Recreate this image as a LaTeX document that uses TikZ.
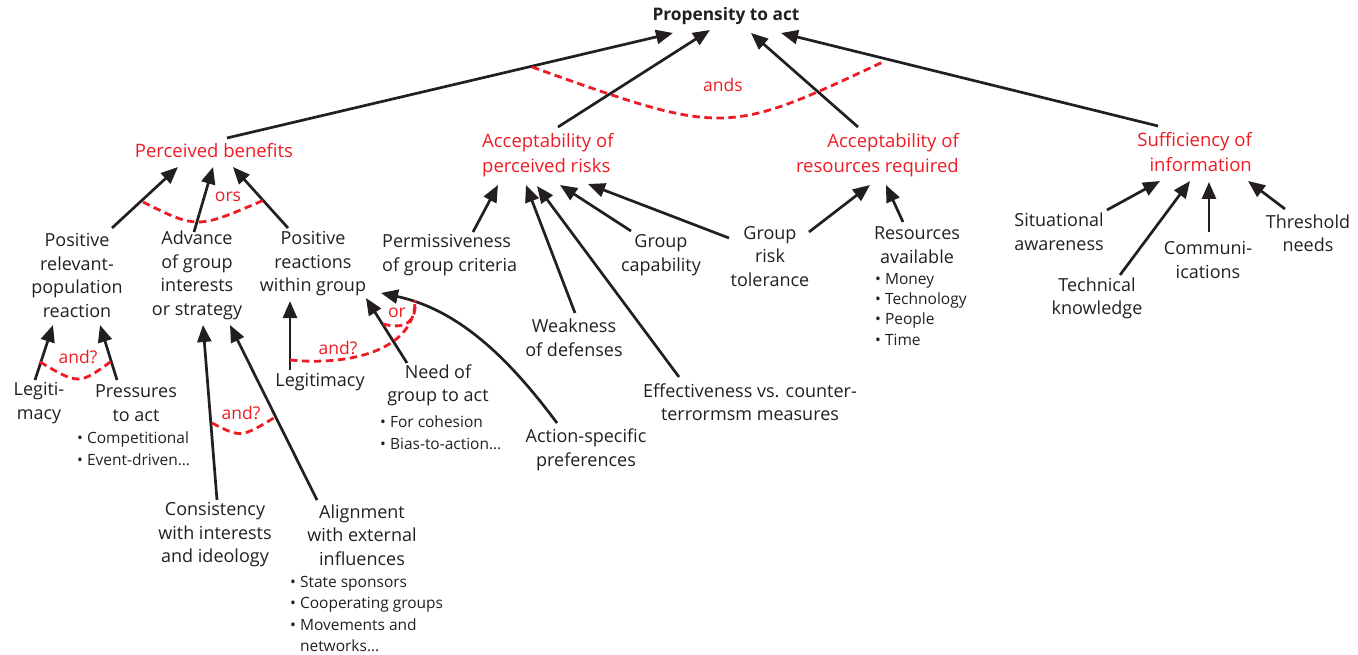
\documentclass[tikz,border=0pt]{standalone}
\usepackage{fontspec}
\setmainfont{Open Sans}
\usetikzlibrary{arrows.meta,calc}
\definecolor{ink}{RGB}{35,31,32}
\definecolor{hlred}{RGB}{237,28,36}
\tikzset{
	txt/.style={align=center, inner sep=0pt, text=ink, font=\fontsize{18}{23.5}\selectfont},
	goal/.style={txt, text=hlred, font=\fontsize{18.5}{24.5}\selectfont},
	items/.style={align=left, inner sep=0pt, anchor=north west, text=ink, font=\fontsize{15.5}{21.5}\selectfont},
	arw/.style={draw=ink, line width=2.7pt, -{Triangle[length=17pt,width=14pt]}},
	logic/.style={draw=hlred, line width=2.8pt, dash pattern=on 7.5pt off 4.5pt},
	logictxt/.style={inner sep=0pt, text=hlred, font=\fontsize{17.5}{19}\selectfont},
}

\begin{document}
\begin{tikzpicture}[x=1pt, y=-1pt]
		%%%%% START %%%%%
		\useasboundingbox (0,0) rectangle (1358,655);
		
		\node[txt, font=\fontsize{17.3}{19}\selectfont\bfseries] (prop) at (726,16) {Propensity to act};
		
		\node[goal] (pb) at (214,151) {Perceived benefits};
		\node[goal, anchor=west, align=left] (apr) at (482,155) {Acceptability of\\perceived risks};
		\node[goal, anchor=east, align=right] (acr) at (959,155) {Acceptability of\\resources required};
		\node[goal, anchor=east, align=right] (suf) at (1252,152) {Sufficiency of\\information};
		
		\node[txt] (plr) at (77,275.5) {Positive\\relevant-\\population\\reaction};
		\node[txt] (adv) at (197,275.5) {Advance\\of group\\interests\\or strategy};
		\node[txt] (prw) at (313,264) {Positive\\reactions\\within group};
		
		\node[txt, anchor=west, align=left] (perm) at (382,255) {Permissiveness\\of group criteria};
		\node[txt] (gcap) at (661,255) {Group\\capability};
		\node[txt] (grt) at (770,256.5) {Group\\risk\\tolerance};
		\node[txt] (weak) at (574,337.5) {Weakness\\of defenses};
		\node[txt] (eff) at (750,402) {Effectiveness vs. counter-\\terrormsm measures};
		
		\node[txt] (res) at (917,245) {Resources\\available};
		\node[items, font=\fontsize{15.5}{20.3}\selectfont] (resitems) at (875,273) {\textbullet\ Money\\\textbullet\ Technology\\\textbullet\ People\\\textbullet\ Time};
		
		\node[txt] (sit) at (1059,232) {Situational\\awareness};
		\node[txt] (tech) at (1097,298.5) {Technical\\knowledge};
		\node[txt] (comm) at (1208,260) {Communi-\\ications};
		\node[txt] (thr) at (1308,233) {Threshold\\needs};
		
		\node[txt] (leg1) at (39,403) {Legiti-\\macy};
		\node[txt] (press) at (136,403) {Pressures\\to act};
		\node[items] (pressitems) at (77,432) {\textbullet\ Competitional\\\textbullet\ Event-driven\ldots};
		
		\node[txt] (cons) at (215,535) {Consistency\\with interests\\and ideology};
		\node[txt] (alg) at (362,535) {Alignment\\with external\\influences};
		\node[items] (algitems) at (290,576) {\textbullet\ State sponsors\\\textbullet\ Cooperating groups\\\textbullet\ Movements and\\\phantom{\textbullet\ }networks\ldots};
		
		\node[txt] (leg2) at (320,382) {Legitimacy};
		\node[txt] (need) at (438,385.5) {Need of\\group to act};
		\node[items] (needitems) at (380,416) {\textbullet\ For cohesion\\\textbullet\ Bias-to-action\ldots};
		\node[txt] (act) at (586,450) {Action-specific\\preferences};
		
		%%%%% ARROWS %%%%%
		\draw[arw] ($(pb)+(13,-13)$) -- ($(prop)+(-53,17)$);
		\draw[arw] ($(apr.west)+(76,-28)$) -- ($(prop)+(-16,14)$);
		\draw[arw] ($(acr.east)+(-101,-28)$) -- ($(prop)+(25,17)$);
		\draw[arw] ($(suf.east)+(-94,-26)$) -- ($(prop)+(55,17)$);
		
		\draw[arw] ($(plr)+(35,-47.5)$) -- ($(pb)+(-36,16)$);
		\draw[arw] ($(adv)+(-3,-43.5)$) -- ($(pb)+(-1,16)$);
		\draw[arw] ($(prw)+(-25,-36)$) -- ($(pb)+(19,16)$);
		
		\draw[arw] ($(leg1)+(-4,-23)$) -- ($(plr)+(-24,49.5)$);
		\draw[arw] ($(press)+(-19,-23)$) -- ($(plr)+(23,49.5)$);
		\draw[arw] ($(cons)+(2,-35)$) -- ($(adv)+(6,49.5)$);
		\draw[arw] ($(alg)+(-45,-35)$) -- ($(adv)+(33,49.5)$);
		
		\draw[arw] ($(leg2)+(-30,-12)$) -- ($(prw)+(-23,37)$);
		\draw[arw] ($(need)+(-31,-22.5)$) -- ($(prw)+(53,34)$);
		\draw[arw] ($(act)+(-29,-27)$) .. controls +(-47,-63) and +(79,17) .. ($(prw)+(68,29)$);
		
		\draw[arw] ($(perm.west)+(91,-23)$) -- ($(apr.west)+(16,30)$);
		\draw[arw] ($(weak)+(1,-24.5)$) -- ($(apr.west)+(44,30)$);
		\draw[arw] ($(eff)+(-71,-25)$) -- ($(apr.west)+(55,31)$);
		\draw[arw] ($(gcap)+(-30,-24)$) -- ($(apr.west)+(78,30)$);
		\draw[arw] ($(grt)+(-41,-18.5)$) -- ($(apr.west)+(106,29)$);
		
		\draw[arw] ($(grt)+(39,-24.5)$) -- ($(acr.east)+(-89,30)$);
		\draw[arw] ($(res)+(-14,-23)$) -- ($(acr.east)+(-73,30)$);
		
		\draw[arw] ($(sit)+(48,-22)$) -- ($(suf.east)+(-92,29)$);
		\draw[arw] ($(tech)+(23,-23.5)$) -- ($(suf.east)+(-62,29)$);
		\draw[arw] ($(comm)+(1,-28)$) -- ($(suf.east)+(-43,30)$);
		\draw[arw] ($(thr)+(-23,-24)$) -- ($(suf.east)+(-4,29)$);
		
		%%%%% AND / OR %%%%%
		\draw[logic] (532,67) .. controls (725,136) .. (885,61);
		\node[logictxt] (lands) at (723,85) {ands};
		\draw[logic] (143,202) .. controls (197,229) .. (264,200);
		\node[logictxt] (lors) at (228,197) {ors};
		\draw[logic] (40,362) .. controls (79,385) .. (113,360);
		\node[logictxt] (land1) at (78,357) {and?};
		\draw[logic] (212,423) .. controls (241,438) .. (277,416);
		\node[logictxt] (land2) at (241,413) {and?};
		\draw[logic] (290,360) .. controls (350,366) and (414,350) .. (415,302);
		\node[logictxt] (land3) at (338,348) {and?};
		\draw[logic] (383,324) .. controls (405,330) and (417,322) .. (415,300);
		\node[logictxt] (lor) at (397,313) {or};
		
		%%%%% END %%%%%
\end{tikzpicture}
\end{document}
